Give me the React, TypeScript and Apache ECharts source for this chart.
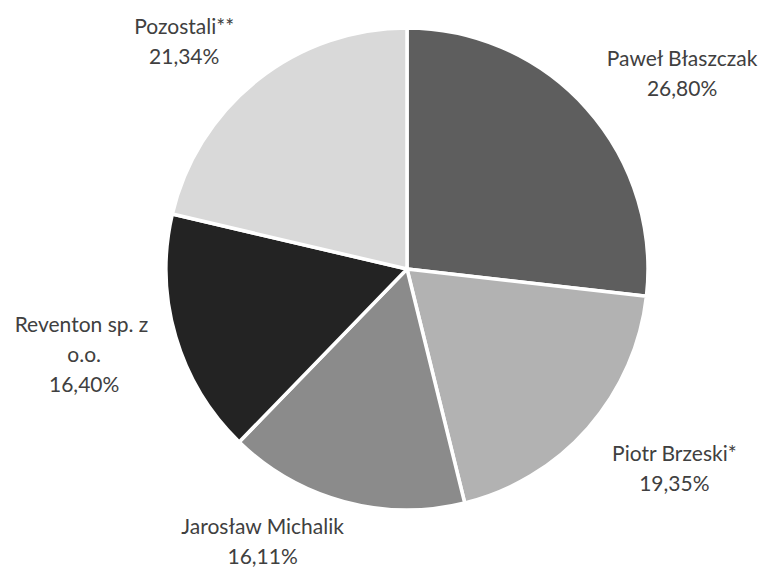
import React, { useEffect, useRef } from "react";
import * as echarts from "echarts";

const names = [
  "Paweł Błaszczak",
  "Piotr Brzeski*",
  "Jarosław Michalik",
  "Reventon sp. z o.o.",
  "Pozostali**",
];
const shares = [26.8, 19.35, 16.11, 16.4, 21.34];
const colors = ["#5e5e5e", "#b2b2b2", "#8b8b8b", "#232323", "#d9d9d9"];

// label placement (radial length, horizontal length, wrap width)
const labelLen = [54, 59, 40, 60, 50];
const labelLen2 = [50, 37, 66, 29, 37];
const labelWidth = [220, 220, 220, 150, 220];

export default function App() {
  const ref = useRef<HTMLDivElement>(null);
  useEffect(() => {
    if (!ref.current) return;
    const chart = echarts.init(ref.current, null, { renderer: "svg" });
    chart.setOption({
      animation: false,
      backgroundColor: "#ffffff",
      series: [
        {
          type: "pie",
          center: [407, 269],
          radius: 241,
          startAngle: 90,
          clockwise: true,
          avoidLabelOverlap: false,
          itemStyle: { borderColor: "#ffffff", borderWidth: 3.5 },
          label: {
            show: true,
            position: "outside",
            fontFamily: "Lato",
            fontSize: 21,
            lineHeight: 30,
            color: "#404040",
            overflow: "break",
            formatter: (p: any) =>
              `${p.name}\n${Number(p.value).toFixed(2).replace(".", ",")}%`,
          },
          labelLine: { show: false },
          labelLayout: () => ({ align: "center", verticalAlign: "middle" }),
          emphasis: { disabled: true },
          data: names.map((n, i) => ({
            name: n,
            value: shares[i],
            itemStyle: { color: colors[i] },
            label: { width: labelWidth[i] },
            labelLine: { length: labelLen[i], length2: labelLen2[i] },
          })),
        },
      ],
    });
    return () => chart.dispose();
  }, []);
  return (
    <div
      ref={ref}
      style={{ position: "absolute", left: 0, top: 0, width: 764, height: 571 }}
    />
  );
}
